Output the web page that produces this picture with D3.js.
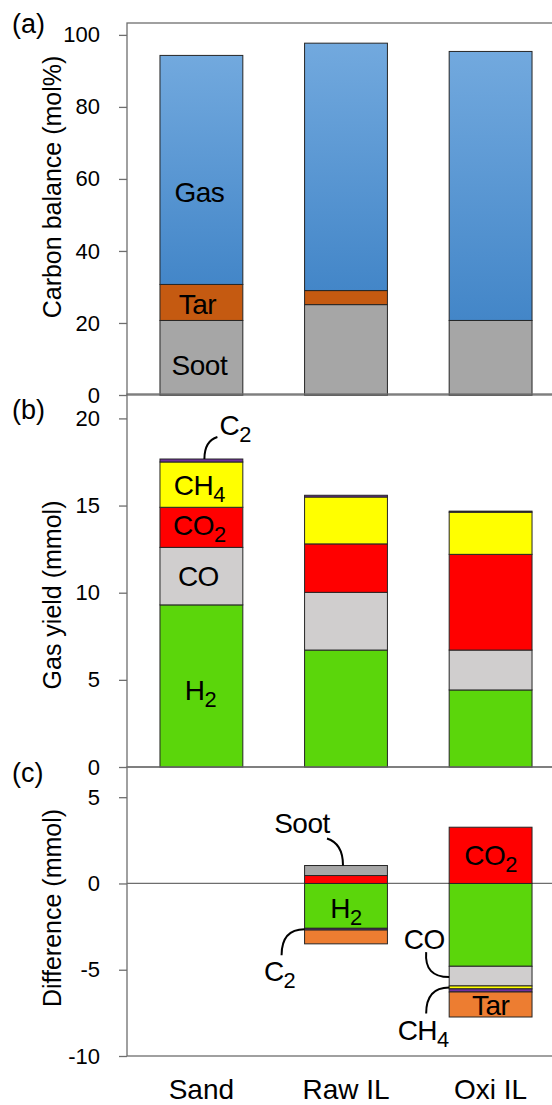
<!DOCTYPE html>
<html>
<head>
<meta charset="utf-8">
<script src="https://cdn.jsdelivr.net/npm/d3@7"></script>
<style>
  html, body { margin: 0; padding: 0; background: #fff; }
  svg { display: block; font-family: "Liberation Sans", Arial, sans-serif; }
</style>
</head>
<body>
<svg id="chart" width="552" height="1105"></svg>
<script>
// ---------- data ----------
const categories = ["Sand", "Raw IL", "Oxi IL"];

// (a) carbon balance, mol%
const balanceKeys = ["Soot", "Tar", "Gas"];
const sootBalance = [20.7, 25.1, 20.7];
const tarBalance  = [10.0, 3.9, 0.0];
const gasBalance  = [63.6, 68.7, 74.7];
const balanceTicks = [0, 20, 40, 60, 80, 100];

// (b) gas yield, mmol
const gasKeys = ["H2", "CO", "CO2", "CH4", "C2"];
const h2Yield  = [9.30, 6.71, 4.42];
const coYield  = [3.30, 3.31, 2.29];
const co2Yield = [2.30, 2.78, 5.49];
const ch4Yield = [2.60, 2.69, 2.42];
const c2Yield  = [0.17, 0.10, 0.06];
const yieldTicks = [0, 5, 10, 15, 20];

// (c) difference vs. sand, mmol
const diffKeys = ["H2", "CO", "CO2", "CH4", "C2", "Tar", "Soot"];
const h2Diff   = [0, -2.60, -4.80];
const coDiff   = [0,  0.00, -1.14];
const co2Diff  = [0,  0.46,  3.26];
const ch4Diff  = [0,  0.00, -0.17];
const c2Diff   = [0, -0.10, -0.18];
const tarDiff  = [0, -0.80, -1.45];
const sootDiff = [0,  0.58,  0.00];
const diffTicks = [-10, -5, 0, 5];

// ---------- styles ----------
const colors = {
  Soot: "#a6a6a6", TarA: "#c55a11", Tar: "#ed7d31",
  H2: "#5bd60b", CO: "#d0cece", CO2: "#ff0000", CH4: "#ffff00", C2: "#7030a0"
};
const FONT = "'Liberation Sans', Arial, sans-serif";

const svg = d3.select("#chart");
const defs = svg.append("defs");
const grad = defs.append("linearGradient").attr("id", "gasGrad")
  .attr("x1", 0).attr("y1", 0).attr("x2", 0).attr("y2", 1);
grad.append("stop").attr("offset", "0%").attr("stop-color", "#72a9de");
grad.append("stop").attr("offset", "100%").attr("stop-color", "#4386c8");

// ---------- scales ----------
const plotLeft = 127, plotRight = 565;
const x = d3.scaleBand().domain(categories).range([plotLeft, plotRight])
  .paddingInner(0.427).paddingOuter(0.228);
const yA = d3.scaleLinear().domain([0, 103.3]).range([395, 23]);
const yB = d3.scaleLinear().domain([0, 21.4]).range([767, 394]);
const yC = d3.scaleLinear().domain([-10, 6.75]).range([1056, 767]);

const boxStroke = "#6e6e6e";
const barStroke = "#262626";

function rows(keys, arrays) {
  return categories.map((c, i) => {
    const r = { cat: c };
    keys.forEach((k, j) => r[k] = arrays[j][i]);
    return r;
  });
}

function drawBox(y) {
  const [d0, d1] = y.domain();
  svg.append("rect")
    .attr("x", plotLeft).attr("y", y(d1))
    .attr("width", 600).attr("height", y(d0) - y(d1))
    .attr("fill", "none").attr("stroke", boxStroke).attr("stroke-width", 1.3);
}

function drawAxis(y, ticks) {
  const g = svg.append("g").attr("transform", `translate(${plotLeft},0)`)
    .call(d3.axisLeft(y).tickValues(ticks).tickSize(8).tickPadding(19).tickFormat(d => String(d)));
  g.select(".domain").remove();
  g.selectAll(".tick line").attr("stroke", boxStroke).attr("stroke-width", 1.3);
  g.selectAll(".tick text").attr("font-family", FONT).attr("font-size", 22).attr("fill", "#000");
}

function axisTitle(text, cy) {
  svg.append("text")
    .attr("transform", `translate(52,${cy}) rotate(-90)`)
    .attr("text-anchor", "middle").attr("dy", "0.35em")
    .attr("font-family", FONT).attr("font-size", 25).attr("fill", "#000")
    .text(text);
}

function label(xc, yb, main, sub, size, anchor) {
  const t = svg.append("text").attr("x", xc).attr("y", yb)
    .attr("text-anchor", anchor || "middle")
    .attr("font-family", FONT).attr("font-size", size || 28).attr("fill", "#000")
    .attr("letter-spacing", -0.5);
  t.append("tspan").text(main);
  if (sub) t.append("tspan").attr("font-size", (size || 28) * 0.78).attr("dy", 7).text(sub);
  return t;
}

function leader(x0, y0, cx, cy, x1, y1) {
  const p = d3.path();
  p.moveTo(x0, y0);
  p.quadraticCurveTo(cx, cy, x1, y1);
  svg.append("path").attr("d", p.toString())
    .attr("fill", "none").attr("stroke", "#000").attr("stroke-width", 2);
}

// ---------- (a) carbon balance ----------
const dataA = rows(balanceKeys, [sootBalance, tarBalance, gasBalance]);
const stackA = d3.stack().keys(balanceKeys)(dataA);
drawBox(yA);
svg.append("g").selectAll("g").data(stackA).join("g")
  .attr("fill", d => d.key === "Gas" ? "url(#gasGrad)" : d.key === "Tar" ? colors.TarA : colors.Soot)
  .selectAll("rect").data(d => d.filter(s => s[1] - s[0] > 0)).join("rect")
  .attr("x", d => x(d.data.cat)).attr("width", x.bandwidth())
  .attr("y", d => yA(d[1])).attr("height", d => yA(d[0]) - yA(d[1]))
  .attr("stroke", barStroke).attr("stroke-width", 1);

// ---------- (b) gas yield ----------
const dataB = rows(gasKeys, [h2Yield, coYield, co2Yield, ch4Yield, c2Yield]);
const stackB = d3.stack().keys(gasKeys)(dataB);
drawBox(yB);
svg.append("g").selectAll("g").data(stackB).join("g")
  .attr("fill", d => colors[d.key])
  .selectAll("rect").data(d => d.filter(s => s[1] - s[0] > 0)).join("rect")
  .attr("x", d => x(d.data.cat)).attr("width", x.bandwidth())
  .attr("y", d => yB(d[1])).attr("height", d => yB(d[0]) - yB(d[1]))
  .attr("stroke", barStroke).attr("stroke-width", 1);

// ---------- (c) difference ----------
const dataC = rows(diffKeys, [h2Diff, coDiff, co2Diff, ch4Diff, c2Diff, tarDiff, sootDiff]);
const stackC = d3.stack().keys(diffKeys).offset(d3.stackOffsetDiverging)(dataC);
drawBox(yC);
svg.append("line")
  .attr("x1", plotLeft).attr("x2", 600).attr("y1", yC(0)).attr("y2", yC(0))
  .attr("stroke", boxStroke).attr("stroke-width", 1.2);
svg.append("g").selectAll("g").data(stackC).join("g")
  .attr("fill", d => colors[d.key])
  .selectAll("rect").data(d => d.filter(s => Math.abs(s[1] - s[0]) > 0)).join("rect")
  .attr("x", d => x(d.data.cat)).attr("width", x.bandwidth())
  .attr("y", d => yC(Math.max(d[0], d[1]))).attr("height", d => Math.abs(yC(d[0]) - yC(d[1])))
  .attr("stroke", barStroke).attr("stroke-width", 1);

// ---------- axes ----------
drawAxis(yA, balanceTicks);
drawAxis(yB, yieldTicks);
drawAxis(yC, diffTicks);
axisTitle("Carbon balance (mol%)", 187);
axisTitle("Gas yield (mmol)", 595);
axisTitle("Difference (mmol)", 908);

// panel letters
[["(a)", 33], ["(b)", 419], ["(c)", 782]].forEach(([t, yb]) => {
  svg.append("text").attr("x", 12).attr("y", yb)
    .attr("font-family", FONT).attr("font-size", 27).attr("fill", "#000").text(t);
});

// category labels
svg.append("g").selectAll("text").data(categories).join("text")
  .attr("x", d => x(d) + x.bandwidth() / 2).attr("y", 1099)
  .attr("text-anchor", "middle").attr("font-family", FONT).attr("font-size", 28)
  .attr("fill", "#000").text(d => d);

// ---------- in-bar labels ----------
const cS = x("Sand") + x.bandwidth() / 2;
const cR = x("Raw IL") + x.bandwidth() / 2;
const cO = x("Oxi IL") + x.bandwidth() / 2;
const sI = 0, rI = 1, oI = 2;

// (a)
label(cS - 2, 202, "Gas");
label(cS - 4, 314, "Tar");
label(cS - 2, 375, "Soot");

// (b)
label(cS - 1, yB(h2Yield[sI] / 2) + 14, "H", "2");
label(cS - 3, yB(h2Yield[sI] + coYield[sI] / 2) + 10, "CO");
label(cS - 2, yB(h2Yield[sI] + coYield[sI] + co2Yield[sI] / 2) + 8, "CO", "2");
label(cS - 2, yB(h2Yield[sI] + coYield[sI] + co2Yield[sI] + ch4Yield[sI] / 2) + 10, "CH", "4");
const bTop = yB(h2Yield[sI] + coYield[sI] + co2Yield[sI] + ch4Yield[sI] + c2Yield[sI]);
label(cS + 18, bTop - 24, "C", "2", 28, "start");
leader(cS + 16, bTop - 22, cS + 3, bTop - 18, cS + 3, bTop);

// (c)
label(cR, yC(h2Diff[rI] / 2) + 12, "H", "2");
label(cO, yC(co2Diff[oI] / 2) + 10, "CO", "2");
const tarTopO = yC(h2Diff[oI] + coDiff[oI] + ch4Diff[oI] + c2Diff[oI]);
label(cO, tarTopO + 23, "Tar");

const sootTopR = yC(co2Diff[rI] + sootDiff[rI]);
label(cR - 44, sootTopR - 33, "Soot", null, 28);
leader(cR - 19, sootTopR - 27, cR - 3, sootTopR - 22, cR - 3, sootTopR);

const c2R = yC(h2Diff[rI] + c2Diff[rI] / 2);
const leftR = x("Raw IL");
label(leftR - 25, c2R + 52, "C", "2");
leader(leftR - 23, c2R + 26, leftR - 23, c2R, leftR, c2R);

const leftO = x("Oxi IL");
const coMidO = yC(h2Diff[oI] + coDiff[oI] * 0.55);
label(leftO - 25, coMidO - 28, "CO");
leader(leftO - 23, coMidO - 25, leftO - 25, coMidO, leftO, coMidO);

const ch4O = yC(h2Diff[oI] + coDiff[oI] + ch4Diff[oI] / 2);
label(leftO - 26, ch4O + 53, "CH", "4");
leader(leftO - 23, ch4O + 26, leftO - 23, ch4O, leftO, ch4O);
</script>
</body>
</html>
